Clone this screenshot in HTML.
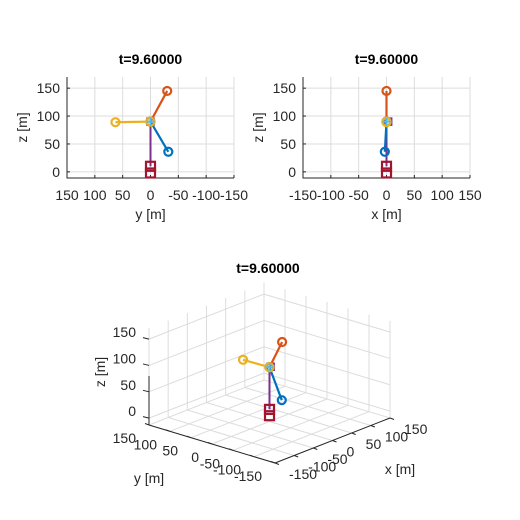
<!DOCTYPE html>
<html><head><meta charset="utf-8"><style>
body{margin:0;background:#fff}
svg{display:block;font-family:"Liberation Sans",sans-serif}
</style></head><body>
<svg id="fig" width="520" height="520" viewBox="0 0 520 520"></svg>
<script>
// ---- data ----
const hub = [0, 0, 90];           // x, y, z of hub
const armNames = ['blue-arm', 'orange-arm', 'yellow-arm'];
const armColors = ['#0072BD', '#D95319', '#EDB120'];
const armEndX = [-3, 0, 0];
const armEndY = [-32, -30, 63];
const armEndZ = [36, 145, 89];
const towerBaseZ = [10, -2];      // red square markers
const ticks2D = [150, 100, 50, 0, -50, -100, -150];
const ticksZ = [0, 50, 100, 150];
const ticks3D = [-150, -100, -50, 0, 50, 100, 150];
const titleText = 't=9.60000';

const NS = 'http://www.w3.org/2000/svg';
const svg = document.getElementById('fig');
const FS = 14;
function el(tag, attrs, parent, text) {
  const e = document.createElementNS(NS, tag);
  for (const k in attrs) e.setAttribute(k, attrs[k]);
  if (text !== undefined) e.textContent = text;
  (parent || svg).appendChild(e);
  return e;
}
const grid = '#dcdcdc', axc = '#262626';

function marks(g, P) {
  const t = el('line', {x1:P(hub[0],hub[1],hub[2])[0], y1:P(hub[0],hub[1],hub[2])[1], x2:P(0,0,towerBaseZ[0])[0], y2:P(0,0,towerBaseZ[0])[1], stroke:'#7E2F8E','stroke-width':2}, g);
  
  
  towerBaseZ.forEach((z, i) => {
    const p = P(0, 0, z);
    const r = el('rect', {x:p[0]-4.5, y:p[1]-4.5, width:9, height:9, fill:'none', stroke:'#A2142F','stroke-width':2.2}, g);
    
    
  });
  const hp = P(hub[0]+3, hub[1], hub[2]);
  const pm = el('rect', {x:hp[0]-3.5, y:hp[1]-3.5, width:7, height:7, fill:'none', stroke:'#7E2F8E','stroke-width':1.5}, g);
  
  
  armNames.forEach((n, i) => {
    const a = P(hub[0], hub[1], hub[2]), b = P(armEndX[i], armEndY[i], armEndZ[i]);
    const l = el('line', {x1:a[0], y1:a[1], x2:b[0], y2:b[1], stroke:armColors[i], 'stroke-width':2.2}, g);
    
    
    const c = el('circle', {cx:b[0], cy:b[1], r:4, fill:'none', stroke:armColors[i], 'stroke-width':2.2}, g);
    
    
    const c2 = el('circle', {cx:a[0], cy:a[1], r:4, fill:'none', stroke:armColors[i], 'stroke-width':2.2}, g);
    
    
  });
  const hc = P(hub[0], hub[1], hub[2]);
  const plus = el('path', {d:`M${hc[0]-4},${hc[1]}h8M${hc[0]},${hc[1]-4}v8`, stroke:'#4DBEEE','stroke-width':2}, g);
  
  
}

// ---- 2D panels ----
function panel2D(name, left, right, horiz, hLabel) {
  const top = 77, bot = 178, zmin = -11, zmax = 170;
  const sx = v => horiz === 'y' ? left + (150 - v) / 300 * (right - left) : left + (v + 150) / 300 * (right - left);
  const sz = z => bot - (z - zmin) / (zmax - zmin) * (bot - top);
  const g = el('g', {});
  
  
  ticks2D.forEach(v => {
    el('line', {x1:sx(v), x2:sx(v), y1:top, y2:bot, stroke:grid, 'stroke-width':1}, g);
    el('line', {x1:sx(v), x2:sx(v), y1:bot, y2:bot-3, stroke:axc}, g);
    const t = el('text', {x:sx(v), y:bot+22, 'font-size':FS, 'text-anchor':'middle', fill:axc}, g, String(v));
    
    
  });
  ticksZ.forEach(v => {
    el('line', {x1:left, x2:right, y1:sz(v), y2:sz(v), stroke:grid}, g);
    el('line', {x1:left, x2:left+3, y1:sz(v), y2:sz(v), stroke:axc}, g);
    const t = el('text', {x:left-7, y:sz(v)+5, 'font-size':FS, 'text-anchor':'end', fill:axc}, g, String(v));
    
    
  });
  el('path', {d:`M${left},${top}V${bot}H${right}`, fill:'none', stroke:axc, 'stroke-width':1}, g);
  const P = horiz === 'y' ? (x, y, z) => [sx(y), sz(z)] : (x, y, z) => [sx(x), sz(z)];
  marks(g, P);
  const tt = el('text', {x:(left+right)/2, y:64, 'font-size':14, 'font-weight':'bold', 'text-anchor':'middle', fill:'#000'}, g, titleText);
  
  
  const hl = el('text', {x:(left+right)/2, y:219, 'font-size':FS, 'text-anchor':'middle', fill:axc}, g, hLabel);
  
  
  const zl = el('text', {x:0, y:0, 'font-size':FS, 'text-anchor':'middle', fill:axc, transform:`translate(${left-40},${(top+bot)/2}) rotate(-90)`}, g, 'z [m]');
  
  
}
panel2D('yz-view', 67, 234, 'y', 'y [m]');
panel2D('xz-view', 303, 470, 'x', 'x [m]');

// ---- 3D panel ----
const zmin3 = -13, zmax3 = 171, front = [275, 463];
function P3(x, y, z) {
  const fx = (x + 150) / 300, fy = (y + 150) / 300;
  return [front[0] + fx * 115 - fy * 126, front[1] - fx * 45 - fy * 38 - (z - zmin3) * 0.527];
}
const g3 = el('g', {});


function seg(a, b, st, w) { el('line', {x1:a[0], y1:a[1], x2:b[0], y2:b[1], stroke:st, 'stroke-width':w||1}, g3); }
ticks3D.forEach(v => {
  seg(P3(v, -150, zmin3), P3(v, 150, zmin3), grid);
  seg(P3(-150, v, zmin3), P3(150, v, zmin3), grid);
  seg(P3(v, 150, zmin3), P3(v, 150, zmax3), grid);
  seg(P3(150, v, zmin3), P3(150, v, zmax3), grid);
});
ticksZ.forEach(v => {
  seg(P3(-150, 150, v), P3(150, 150, v), grid);
  seg(P3(150, -150, v), P3(150, 150, v), grid);
});
seg(P3(-150,150,zmin3), P3(-150,150,zmax3), grid);
seg(P3(150,-150,zmin3), P3(150,-150,zmax3), grid);
seg(P3(-150,150,zmin3), P3(-150,-150,zmin3), axc);
seg(P3(-150,-150,zmin3), P3(150,-150,zmin3), axc);
seg(P3(-150,150,zmin3), P3(-150,150,80), axc);
ticks3D.forEach(v => {
  const a = P3(-150, v, zmin3);
  seg(a, [a[0]-4, a[1]-1.5], axc);
  const t = el('text', {x:a[0]-13, y:a[1]+18, 'font-size':FS, 'text-anchor':'end', fill:axc}, g3, String(v));
  
  
  const b = P3(v, -150, zmin3);
  seg(b, [b[0]+4, b[1]+1.5], axc);
  const u = el('text', {x:b[0]+14, y:b[1]+16, 'font-size':FS, 'text-anchor':'start', fill:axc}, g3, String(v));
  
  
});
ticksZ.forEach(v => {
  const a = P3(-150, 150, v);
  seg(a, [a[0]-6, a[1]-1.5], axc);
  const t = el('text', {x:a[0]-13, y:a[1]-2, 'font-size':FS, 'text-anchor':'end', fill:axc}, g3, String(v));
  
  
});
marks(g3, P3);
const t3 = el('text', {x:268, y:273, 'font-size':14, 'font-weight':'bold', 'text-anchor':'middle', fill:'#000'}, g3, titleText);


const yl3 = el('text', {x:149, y:483, 'font-size':FS, 'text-anchor':'middle', fill:axc}, g3, 'y [m]');


const xl3 = el('text', {x:400, y:474, 'font-size':FS, 'text-anchor':'middle', fill:axc}, g3, 'x [m]');


const zl3 = el('text', {x:0, y:0, 'font-size':FS, 'text-anchor':'middle', fill:axc, transform:'translate(105,372) rotate(-90)'}, g3, 'z [m]');


</script>
</body></html>
